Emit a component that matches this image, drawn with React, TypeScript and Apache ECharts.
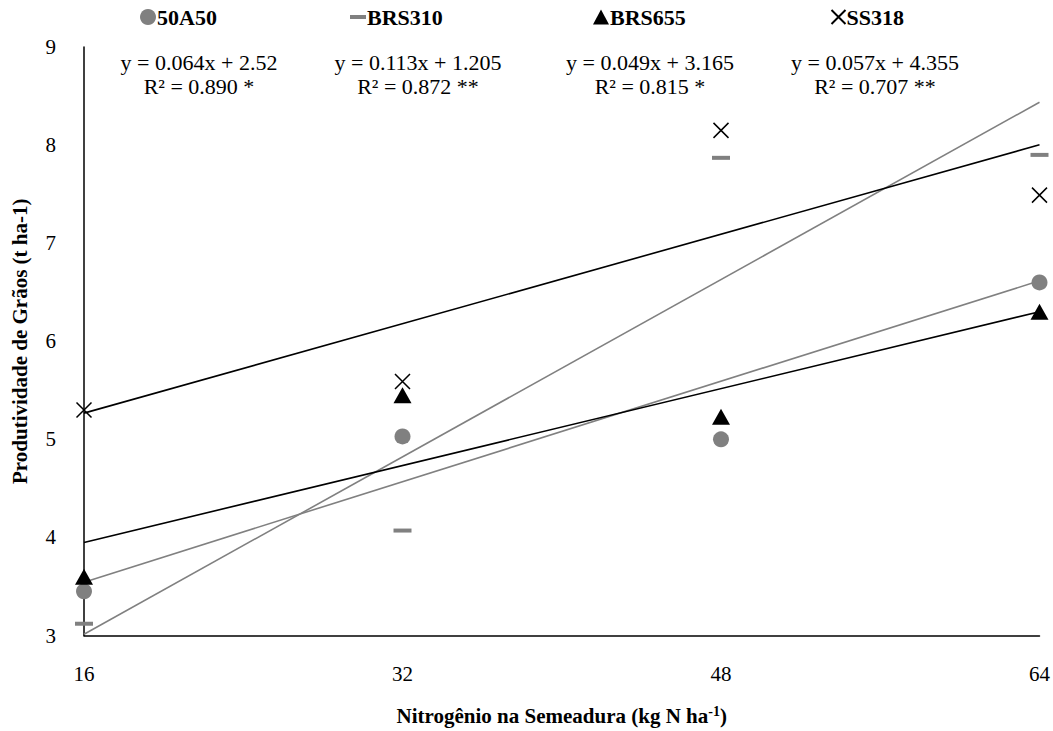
import React, { useEffect, useRef } from "react";
import * as echarts from "echarts";

const xTicks = [16, 32, 48, 64];
const seriesNames = ["50A50", "BRS310", "BRS655", "SS318"];
const v50A50 = [3.45, 5.03, 5.0, 6.6];
const vBRS310 = [3.12, 4.07, 7.87, 7.9];
const vBRS655 = [3.6, 5.45, 5.23, 6.3];
const vSS318 = [5.3, 5.59, 8.15, 7.49];
const slopes = [0.064, 0.113, 0.049, 0.057];
const intercepts = [2.52, 1.205, 3.165, 4.355];
const eqLabels = ["y = 0.064x + 2.52", "y = 0.113x + 1.205", "y = 0.049x + 3.165", "y = 0.057x + 4.355"];
const r2Labels = ["R² = 0.890 *", "R² = 0.872 **", "R² = 0.815 *", "R² = 0.707 **"];

const FONT = "'Liberation Serif', 'Times New Roman', serif";
const GRAY = "#808080";
const XPATH = "path://M0,0L10,10M10,0L0,10";

export default function App() {
  const ref = useRef<HTMLDivElement>(null);
  useEffect(() => {
    const chart = echarts.init(ref.current!, null, { renderer: "svg" });
    const values = [v50A50, vBRS310, vBRS655, vSS318];
    const toPts = (v: number[]) => xTicks.map((x, i) => [x, v[i]]);
    const trendColors = [GRAY, GRAY, "#000", "#000"];
    const xmin = xTicks[0];
    const xmax = xTicks[xTicks.length - 1];
    const trends = slopes.map((s, i) => ({
      type: "line",
      name: "trend" + i,
      data: [
        [xmin, s * xmin + intercepts[i]],
        [xmax, s * xmax + intercepts[i]],
      ],
      symbol: "none",
      lineStyle: { color: trendColors[i], width: 1.6 },
      z: 2,
      silent: true,
    }));
    const symbols: any[] = [
      { symbol: "circle", symbolSize: 16, itemStyle: { color: GRAY, opacity: 1 } },
      { symbol: "rect", symbolSize: [18, 4], itemStyle: { color: GRAY, opacity: 1 } },
      { symbol: "triangle", symbolSize: [18, 16], itemStyle: { color: "#000", opacity: 1 } },
      { symbol: XPATH, symbolSize: 15, itemStyle: { color: "none", borderColor: "#000", borderWidth: 1.5, opacity: 1 } },
    ];
    const scatters = seriesNames.map((n, i) => ({
      type: "scatter",
      name: n,
      data: toPts(values[i]),
      z: 5,
      ...symbols[i],
    }));
    const legendLefts = [140, 350, 593, 829];
    const legendIcons = ["circle", "rect", "triangle", XPATH];
    const legendSizes = [[16, 16], [16, 4], [16, 15], [14, 14]];
    const legends = seriesNames.map((n, i) => ({
      data: [{ name: n, icon: legendIcons[i] }],
      left: legendLefts[i],
      top: 6,
      itemWidth: legendSizes[i][0],
      itemHeight: legendSizes[i][1],
      itemGap: 0,
      padding: 0,
      selectedMode: false,
      textStyle: { fontFamily: FONT, fontWeight: "bold", fontSize: 22, color: "#000", padding: [0, 0, 0, -4] },
    }));
    const eqCenters = [199, 418, 650, 875];
    const graphics: any[] = [];
    eqCenters.forEach((cx, i) => {
      graphics.push({
        type: "text",
        x: cx,
        y: 51,
        style: { text: eqLabels[i], fontFamily: FONT, fontSize: 22, fill: "#000", textAlign: "center" },
      });
      graphics.push({
        type: "text",
        x: cx,
        y: 75,
        style: { text: r2Labels[i], fontFamily: FONT, fontSize: 22, fill: "#000", textAlign: "center" },
      });
    });
    chart.setOption({
      animation: false,
      backgroundColor: "#fff",
      legend: legends,
      graphic: graphics,
      grid: { left: 84, right: 13, top: 47, bottom: 95, containLabel: false },
      xAxis: {
        type: "value",
        min: 16,
        max: 64,
        interval: 16,
        name: "{b|Nitrogênio na Semeadura (kg N ha}{s|-1}{b|)}",
        nameLocation: "middle",
        nameGap: 69,
        nameTextStyle: {
          rich: {
            b: { fontFamily: FONT, fontWeight: "bold", fontSize: 21, color: "#000" },
            s: { fontFamily: FONT, fontWeight: "bold", fontSize: 14, color: "#000", verticalAlign: "top", padding: [0, 0, 8, 0] },
          },
        },
        axisLine: { show: true, lineStyle: { color: "#000", width: 1.5 } },
        axisTick: { show: false },
        splitLine: { show: false },
        axisLabel: { fontFamily: FONT, fontSize: 21, color: "#000", margin: 28 },
      },
      yAxis: {
        type: "value",
        min: 3,
        max: 9,
        interval: 1,
        name: "Produtividade de Grãos (t ha-1)",
        nameLocation: "middle",
        nameGap: 54,
        nameTextStyle: { fontFamily: FONT, fontWeight: "bold", fontSize: 21, color: "#000" },
        axisLine: { show: true, lineStyle: { color: "#000", width: 1.5 } },
        axisTick: { show: false },
        splitLine: { show: false },
        axisLabel: { fontFamily: FONT, fontSize: 21, color: "#000", margin: 28 },
      },
      series: [...trends, ...scatters],
    });
    return () => chart.dispose();
  }, []);
  return (
    <div
      ref={ref}
      style={{ position: "fixed", left: 0, top: 0, width: 1053, height: 731, background: "#fff" }}
    />
  );
}
